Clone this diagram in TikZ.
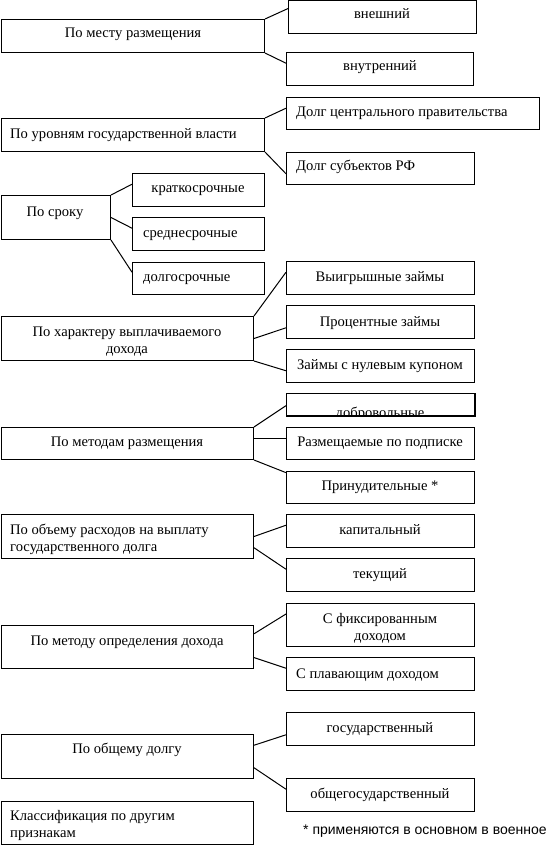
\documentclass[tikz,border=0pt]{standalone}
\usepackage{fontspec}
\setmainfont{Liberation Serif}
\newfontfamily\notefont{Liberation Sans}
\usetikzlibrary{calc}
\tikzset{
  box/.style={draw=black, line width=1pt, rectangle, inner sep=0pt},
  link/.style={draw=black, line width=1pt},
  tc/.style={inner sep=0pt, anchor=base, font=\fontsize{14.6}{17}\selectfont},
  tl/.style={inner sep=0pt, anchor=base west, font=\fontsize{14.6}{17}\selectfont},
  tm/.style={inner sep=0pt, anchor=base, align=center, font=\fontsize{14.6}{17}\selectfont},
  tml/.style={inner sep=0pt, anchor=base west, align=left, font=\fontsize{14.6}{17}\selectfont}
}
\newcommand\mybox[5]{\node[box, anchor=north west, minimum width={(#4-#2)*1pt}, minimum height={(#5-#3)*1pt}] (#1) at (#2,#3) {};}
\newcommand\lk[4]{\draw[link] ($(#1.north east)!#2!(#1.south east)$) -- ($(#3.north west)!#4!(#3.south west)$);}
\begin{document}
\begin{tikzpicture}[x=1pt,y=-1pt]
\useasboundingbox (0,0) rectangle (549,845);
% group 1
\mybox{a}{1}{19}{264}{52}
\mybox{a1}{288}{0.5}{476}{33}
\mybox{a2}{286}{52}{473}{85}
\node[tc] (ta) at (133,38) {По месту размещения};
\node[tc] (ta1) at (382,19) {внешний};
\node[tc] (ta2) at (380,71) {внутренний};
\lk{a}{0}{a1}{0.24}
\lk{a}{1}{a2}{0.33}
% group 2
\mybox{b}{1}{118}{264}{151}
\mybox{b1}{286}{97}{539}{129}
\mybox{b2}{286}{152}{474}{184}
\node[tl] (tb) at (10,139) {По уровням государственной власти};
\node[tl] (tb1) at (296,117) {Долг центрального правительства};
\node[tl] (tb2) at (296,171) {Долг субъектов РФ};
\lk{b}{0}{b1}{0.34}
\lk{b}{1}{b2}{0.66}
% group 3
\mybox{c}{1}{195}{110}{239}
\mybox{c1}{132}{173}{264}{206}
\mybox{c2}{132}{217}{264}{250}
\mybox{c3}{132}{262}{264}{294}
\node[tc] (tc0) at (55,216) {По сроку};
\node[tc] (tc1) at (198,193) {краткосрочные};
\node[tl] (tc2) at (143,237) {среднесрочные};
\node[tl] (tc3) at (143,281) {долгосрочные};
\lk{c}{0}{c1}{0.33}
\lk{c}{0.5}{c2}{0.33}
\lk{c}{1}{c3}{0.31}
% group 4
\mybox{d}{1}{316}{253}{360}
\mybox{d1}{286}{261}{474}{294}
\mybox{d2}{286}{305}{474}{338}
\mybox{d3}{286}{349}{474}{382}
\node[tm] (td) at (127,353) {По характеру выплачиваемого\\дохода};
\node[tc] (td1) at (380,281) {Выигрышные займы};
\node[tc] (td2) at (380,326) {Процентные займы};
\node[tc] (td3) at (380,369) {Займы с нулевым купоном};
\lk{d}{0}{d1}{0.33}
\lk{d}{0.5}{d2}{0.67}
\lk{d}{1}{d3}{0.64}
% group 5
\mybox{e}{1}{427}{253}{459}
\mybox{e1}{286}{393}{474}{415}
\mybox{e2}{286}{427}{474}{459}
\mybox{e3}{286}{471}{474}{503}
\begin{scope}
\clip (e1.north west) rectangle ($(e1.south east)+(0,-1)$);
\node[tc] (te1) at (380,417) {добровольные};
\end{scope}
\draw[box] (e1.north west) rectangle (e1.south east);
\node[tc] (te) at (127,446) {По методам размещения};
\node[tc] (te2) at (380,446) {Размещаемые по подписке};
\node[tc] (te3) at (380,490) {Принудительные *};
\lk{e}{0}{e1}{0.55}
\lk{e}{0.34}{e2}{0.34}
\lk{e}{1}{e3}{0.05}
% group 6
\mybox{f}{1}{514}{253}{558}
\mybox{f1}{286}{514}{474}{547}
\mybox{f2}{286}{558}{474}{591}
\node[tml] (tf) at (10,551) {По объему расходов на выплату\\государственного долга};
\node[tc] (tf1) at (380,534) {капитальный};
\node[tc] (tf2) at (380,578) {текущий};
\lk{f}{0.5}{f1}{0.33}
\lk{f}{0.75}{f2}{0.33}
% group 7
\mybox{g}{1}{625}{253}{668}
\mybox{g1}{286}{603}{474}{646}
\mybox{g2}{286}{657}{474}{690}
\node[tc] (tg) at (127,645) {По методу определения дохода};
\node[tm] (tg1) at (380,640) {С фиксированным\\доходом};
\node[tl] (tg2) at (296,678) {С плавающим доходом};
\lk{g}{0.2}{g1}{0.25}
\lk{g}{0.74}{g2}{0.33}
% group 8
\mybox{h}{1}{734}{253}{778}
\mybox{h1}{286}{712}{474}{745}
\mybox{h2}{286}{778}{474}{811}
\node[tc] (th) at (127,753) {По общему долгу};
\node[tc] (th1) at (380,732) {государственный};
\node[tc] (th2) at (380,798) {общегосударственный};
\lk{h}{0.25}{h1}{0.67}
\lk{h}{0.75}{h2}{0.33}
% other
\mybox{k}{1}{801}{253}{844}
\node[tml] (tk) at (10,837) {Классификация по другим\\признакам};
\node[inner sep=0pt, anchor=base west, font=\notefont\fontsize{14}{16}\selectfont] (note) at (303,834) {* применяются в основном в военное};
\end{tikzpicture}
\end{document}
